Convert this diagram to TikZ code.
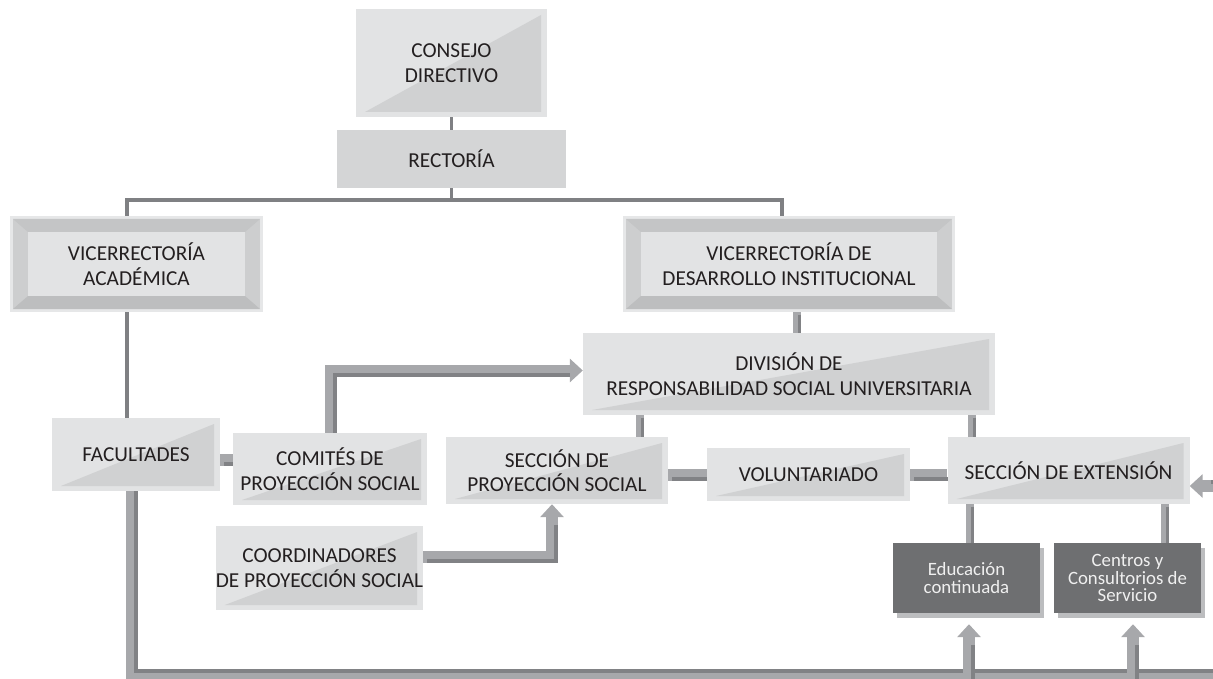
\documentclass[tikz,border=0pt]{standalone}
\usepackage{fontspec}
\setmainfont{Carlito}
\usetikzlibrary{arrows.meta,calc,backgrounds}
\definecolor{boxlight}{HTML}{E2E3E4}
\definecolor{boxshade}{HTML}{D0D1D2}
\definecolor{flatfill}{HTML}{D4D5D6}
\definecolor{bevborder}{HTML}{E6E7E8}
\definecolor{bevside}{HTML}{CDCECF}
\definecolor{bevtop}{HTML}{C4C5C6}
\definecolor{bevbot}{HTML}{BDBEBF}
\definecolor{darkfill}{HTML}{6E6F71}
\definecolor{shadowcol}{HTML}{BCBDBF}
\definecolor{linegray}{HTML}{7F8083}
\definecolor{pipelight}{HTML}{A7A8AB}
\definecolor{pipedark}{HTML}{818285}
\definecolor{textcol}{HTML}{231F20}
\tikzset{
    every node/.style={font=\fontsize{21.3}{24.5}\selectfont, align=center, inner sep=0pt, text=textcol},
    flatbox/.style={fill=flatfill},
    tribox/.style={fill=boxlight, path picture={
        \fill[boxshade] ($(path picture bounding box.south west)+(9,-5)$)
            -- ($(path picture bounding box.south east)+(-6,-5)$)
            -- ($(path picture bounding box.north east)+(-6,6)$) -- cycle;}},
    bevel/.style={fill=bevborder, path picture={
        \fill[bevside] ($(path picture bounding box.north west)+(3,3)$) rectangle ($(path picture bounding box.south east)+(-3,-3)$);
        \fill[bevtop] ($(path picture bounding box.north west)+(3,3)$)
            -- ($(path picture bounding box.north east)+(-3,3)$)
            -- ($(path picture bounding box.north east)+(-18,16)$)
            -- ($(path picture bounding box.north west)+(18,16)$) -- cycle;
        \fill[bevbot] ($(path picture bounding box.south west)+(3,-3)$)
            -- ($(path picture bounding box.south east)+(-3,-3)$)
            -- ($(path picture bounding box.south east)+(-18,-16)$)
            -- ($(path picture bounding box.south west)+(18,-16)$) -- cycle;
        \fill[boxlight] ($(path picture bounding box.north west)+(18,16)$) rectangle ($(path picture bounding box.south east)+(-18,-16)$);}},
    darkbox/.style={fill=darkfill, text=white!94!black, font=\fontsize{18.8}{17.5}\selectfont,
        preaction={fill=shadowcol, transform canvas={shift={(4,5)}}}},
    thinline/.style={draw=linegray, line width=3.2pt},
    pipe/.style={draw=pipelight, line width=12pt,
        postaction={draw=pipedark, line width=4pt, transform canvas={shift={(#1)}}}},
    pipe/.default={4,4},
    midpipe/.style={draw=pipelight, line width=8pt,
        postaction={draw=pipedark, line width=3pt, transform canvas={shift={(2.5,2.5)}}}},
    pipearrow/.style={draw=pipelight, line width=12pt, -{Triangle[width=23pt,length=13pt,fill=pipelight]},
        postaction={draw=pipedark, line width=4pt, arrows=-, shorten >=17pt, transform canvas={shift={(#1)}}}},
    pipearrow/.default={4,4}
}
\begin{document}
\begin{tikzpicture}[x=1pt,y=-1pt]
\useasboundingbox (0,0) rectangle (1213,679);

% boxes
\node[tribox, minimum width=191pt, minimum height=108pt] (consejo) at (451.5,63) {CONSEJO\\DIRECTIVO};
\node[flatbox, minimum width=229pt, minimum height=58pt] (rectoria) at (451.5,159) {RECTORÍA};
\node[bevel, minimum width=253pt, minimum height=96pt] (vacad) at (136.5,264) {VICERRECTORÍA\\ACADÉMICA};
\node[bevel, minimum width=332pt, minimum height=96pt] (vdes) at (789,264) {VICERRECTORÍA DE\\DESARROLLO INSTITUCIONAL};
\node[tribox, minimum width=412pt, minimum height=82pt] (division) at (789,374) {DIVISIÓN DE\\RESPONSABILIDAD SOCIAL UNIVERSITARIA};
\node[tribox, minimum width=168pt, minimum height=73pt] (facultades) at (136,454.5) {FACULTADES};
\node[tribox, minimum width=194pt, minimum height=72pt] (comites) at (330,469) {COMITÉS DE\\PROYECCIÓN SOCIAL};
\node[tribox, minimum width=207pt, minimum height=84pt] (coord) at (319.5,568) {COORDINADORES\\DE PROYECCIÓN SOCIAL};
\node[tribox, minimum width=222pt, minimum height=67pt] (seccionps) at (557,470.5) {SECCIÓN DE\\PROYECCIÓN SOCIAL};
\node[tribox, minimum width=203pt, minimum height=53pt] (volunt) at (808.5,474.5) {VOLUNTARIADO};
\node[tribox, minimum width=242pt, minimum height=67pt] (seccionext) at (1068.5,470.5) {SECCIÓN DE EXTENSIÓN};
\node[darkbox, minimum width=147pt, minimum height=70pt] (educacion) at (966.5,578) {Educación\\continuada};
\node[darkbox, minimum width=147pt, minimum height=70pt] (centros) at (1127.5,578) {Centros y\\Consultorios de\\Servicio};

\coordinate (jL) at (127,200);
\coordinate (jR) at (782,200);
\coordinate (dL) at (640,0);
\coordinate (dR) at (972,0);
\coordinate (fcY) at (0,460);
\coordinate (bot) at (1232,675);

% connectors
\begin{scope}[on background layer]
\draw[thinline] (consejo.south) -- (rectoria.north);
\draw[thinline] (rectoria.south) -- (rectoria.south |- jL);
\draw[thinline] (jL |- vacad.north) -- (jL) -- (jR) -- (jR |- vdes.north);
\draw[thinline] (jL |- vacad.south) -- (jL |- facultades.north);
\draw[midpipe] ([xshift=8pt]vdes.south) -- ([xshift=8pt]vdes.south |- division.north);
\draw[midpipe] (division.south -| dL) -- (seccionps.north -| dL);
\draw[midpipe] (division.south -| dR) -- (seccionext.north -| dR);
\draw[midpipe] ([xshift=3pt]educacion.north |- seccionext.south) -- ([xshift=3pt]educacion.north);
\draw[midpipe] ([xshift=37pt]centros.north |- seccionext.south) -- ([xshift=37pt]centros.north);
\draw[pipe] (facultades.east |- fcY) -- (comites.west |- fcY);
\draw[pipe] (seccionps.east |- volunt.west) -- (volunt.west);
\draw[pipe] (volunt.east) -- (volunt.east -| seccionext.west);
\draw[pipearrow] ([xshift=1pt]comites.north) |- ([yshift=3.5pt]division.west);
\draw[pipearrow] ([yshift=11pt]coord.east) -| ([xshift=-5pt]seccionps.south);
\draw[pipearrow={4,-4}] ([xshift=-4pt]facultades.south) |- (bot) |- ([yshift=-15.5pt]seccionext.east);
\draw[pipearrow] ([xshift=2.5pt]educacion.south |- bot) -- ([xshift=2.5pt,yshift=-11pt]educacion.south);
\draw[pipearrow] ([xshift=5.5pt]centros.south |- bot) -- ([xshift=5.5pt,yshift=-11pt]centros.south);
\end{scope}
\end{tikzpicture}
\end{document}
